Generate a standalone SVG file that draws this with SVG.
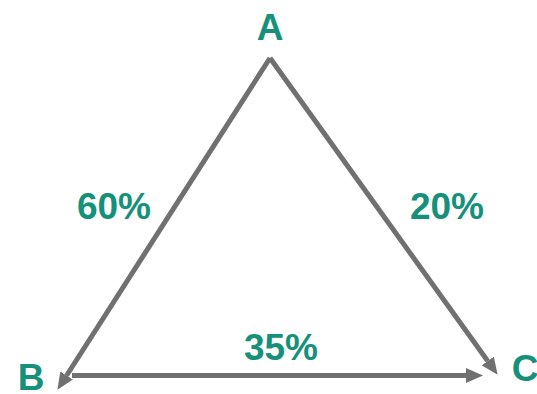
<svg xmlns="http://www.w3.org/2000/svg" width="537" height="394" viewBox="0 0 537 394">
<style>
.lbl{font-family:"Liberation Sans",Arial,sans-serif;font-weight:bold;font-size:37px;fill:#15907a;text-anchor:middle}
.edge{stroke:#707070;stroke-width:5;fill:none;marker-end:url(#ah)}
</style>
<defs>
<marker id="ah" markerUnits="userSpaceOnUse" markerWidth="17" markerHeight="15" refX="0" refY="7.5" orient="auto" viewBox="0 0 17 15">
<path d="M0,0 L17,7.5 L0,15 z" fill="#707070"/>
</marker>
</defs>
<g id="connectors">
<path id="A-B" class="edge" d="M270,58 L66.6,375.5"/>
<path id="A-C" class="edge" d="M270,58 L487.7,361"/>
<path id="B-C" class="edge" d="M72,375.5 L466,375.5"/>
</g>
<g id="labels">
<text class="lbl" x="114" y="219">60%</text>
<text class="lbl" x="447" y="219">20%</text>
<text class="lbl" x="281" y="360">35%</text>
</g>
<g id="node-A"><text class="lbl" x="270" y="40">A</text></g>
<g id="node-B"><text class="lbl" x="31" y="390">B</text></g>
<g id="node-C"><text class="lbl" x="525" y="381">C</text></g>
</svg>
